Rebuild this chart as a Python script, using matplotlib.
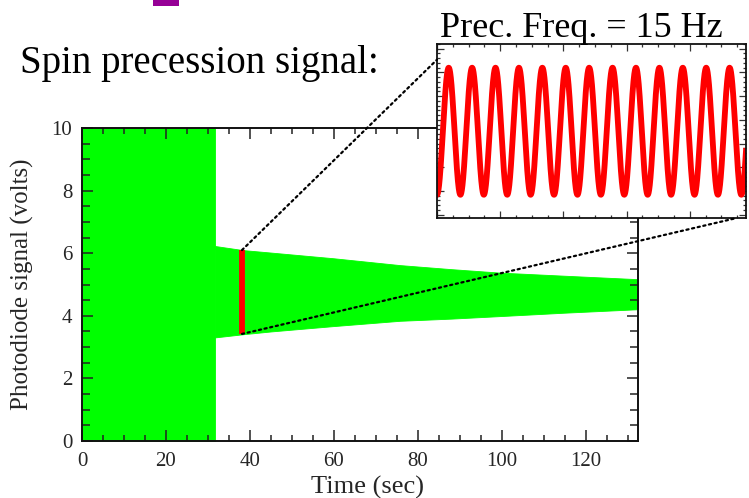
import numpy as np
import matplotlib
matplotlib.use("Agg")
import matplotlib.pyplot as plt
from matplotlib.ticker import MultipleLocator, FixedLocator, NullFormatter
from matplotlib.patches import Rectangle, ConnectionPatch

plt.rcParams['font.family'] = ['Liberation Serif', 'DejaVu Serif']

# ---- data -------------------------------------------------------------
# Saturated pump phase: photodiode output clipped over the full range
pump_end = 31.7
full_range = (0.0, 10.0)

# Free precession envelope (volts) after the pump is switched off
env_t = [31.7, 38.3, 45.0, 59.8, 75.7, 88.0, 99.5, 115.0, 132.4]
env_upper = [6.23, 6.10, 6.02, 5.84, 5.62, 5.49, 5.38, 5.28, 5.17]
env_lower = [3.31, 3.41, 3.50, 3.67, 3.84, 3.91, 3.99, 4.10, 4.21]

# Zoomed window of the precession signal
PREC_FREQ_HZ = 15.0
window_start = 38.1          # s
window_len = 0.88            # s
signal_center = 4.76         # V
signal_amp = 1.34            # V

x_ticks = [0, 20, 40, 60, 80, 100, 120]
y_ticks = [0, 2, 4, 6, 8, 10]

# ---- figure -----------------------------------------------------------
W, H = 749, 498
fig = plt.figure(figsize=(W / 100, H / 100), dpi=100)
fig.patch.set_facecolor('white')

green = '#00ff00'
red = '#ff0000'
tick_col = '#262626'

ax = fig.add_axes([82 / W, 1 - 441 / H, 556 / W, 313 / H])
ax.set_xlim(0, 132.4)
ax.set_ylim(0, 10)

ax.fill_between([0, pump_end], full_range[0], full_range[1],
                facecolor=green, edgecolor=green, lw=0.6, zorder=1)
ax.fill_between(env_t, env_lower, env_upper,
                facecolor=green, edgecolor=green, lw=0.6, zorder=1)

# Marker for the zoomed time window
ax.plot([window_start, window_start],
        [signal_center - signal_amp, signal_center + signal_amp],
        color=red, lw=4.2, solid_capstyle='butt', zorder=3)

ax.xaxis.set_major_locator(FixedLocator(x_ticks))
ax.yaxis.set_major_locator(FixedLocator(y_ticks))
ax.xaxis.set_minor_locator(MultipleLocator(5))
ax.yaxis.set_minor_locator(MultipleLocator(0.5))
ax.tick_params(which='both', direction='in', top=True, right=True,
               color='#222222', width=1.1)
ax.tick_params(axis='x', which='major', length=8, labelsize=15,
               pad=8, labelcolor=tick_col)
ax.tick_params(axis='x', which='minor', length=4)
ax.tick_params(axis='y', which='major', length=8, labelsize=15,
               pad=7, labelcolor=tick_col)
ax.tick_params(axis='y', which='minor', length=6)
for s in ax.spines.values():
    s.set_linewidth(1.4)
    s.set_color('#111111')
    s.set_zorder(4)

ax.set_xlabel('Time (sec)', fontsize=19, color=tick_col)
ax.xaxis.set_label_coords(0.514, -0.112)
ax.set_ylabel('Photodiode signal (volts)', fontsize=18, color=tick_col)
ax.yaxis.set_label_coords(-0.087, 0.50)

# ---- zoomed inset -----------------------------------------------------
axin = fig.add_axes([437 / W, 1 - 218 / H, 309 / W, 174 / H])
axin.set_facecolor('white')
t = np.linspace(window_start, window_start + window_len, 3000)
v = signal_center - signal_amp * np.cos(2 * np.pi * PREC_FREQ_HZ * (t - window_start))
axin.plot(t, v, color=red, lw=4.2, solid_joinstyle='round')
axin.set_xlim(window_start, window_start + window_len)
axin.set_ylim(2.93, 6.60)
axin.xaxis.set_major_locator(FixedLocator(
    np.arange(window_start, window_start + window_len + 1e-6, 0.18)))
axin.xaxis.set_minor_locator(FixedLocator(
    np.arange(window_start, window_start + window_len + 1e-6, 0.045)))
axin.yaxis.set_major_locator(MultipleLocator(0.5))
axin.yaxis.set_minor_locator(MultipleLocator(0.1))
axin.xaxis.set_major_formatter(NullFormatter())
axin.yaxis.set_major_formatter(NullFormatter())
axin.tick_params(which='both', direction='in', top=True, right=True,
                 color='#333333', width=0.9)
axin.tick_params(which='major', length=5)
axin.tick_params(which='minor', length=2.5)
for s in axin.spines.values():
    s.set_linewidth(1.3)
    s.set_color('#111111')

# Dotted guide lines from the marker to the inset
for xy_a, xy_b in [((window_start, signal_center + signal_amp), (0.0, 0.91)),
                   ((window_start, signal_center - signal_amp), (0.97, 0.0))]:
    con = ConnectionPatch(xyA=xy_a, coordsA=ax.transData,
                          xyB=xy_b, coordsB=axin.transAxes,
                          color='black', lw=1.6, linestyle=(0, (1, 1.6)),
                          zorder=10)
    fig.add_artist(con)

# ---- headings ---------------------------------------------------------
fig.text(20 / W, 1 - 73 / H, 'Spin precession signal:', fontsize=28,
         ha='left', va='baseline', color='black')
fig.text(440 / W, 1 - 37 / H, 'Prec. Freq. = 15 Hz', fontsize=26,
         ha='left', va='baseline', color='black')

fig.add_artist(Rectangle((153 / W, 1 - 6 / H), 26 / W, 6 / H,
                         transform=fig.transFigure, color='#960096', lw=0))

fig.savefig('out.png', dpi=100)
